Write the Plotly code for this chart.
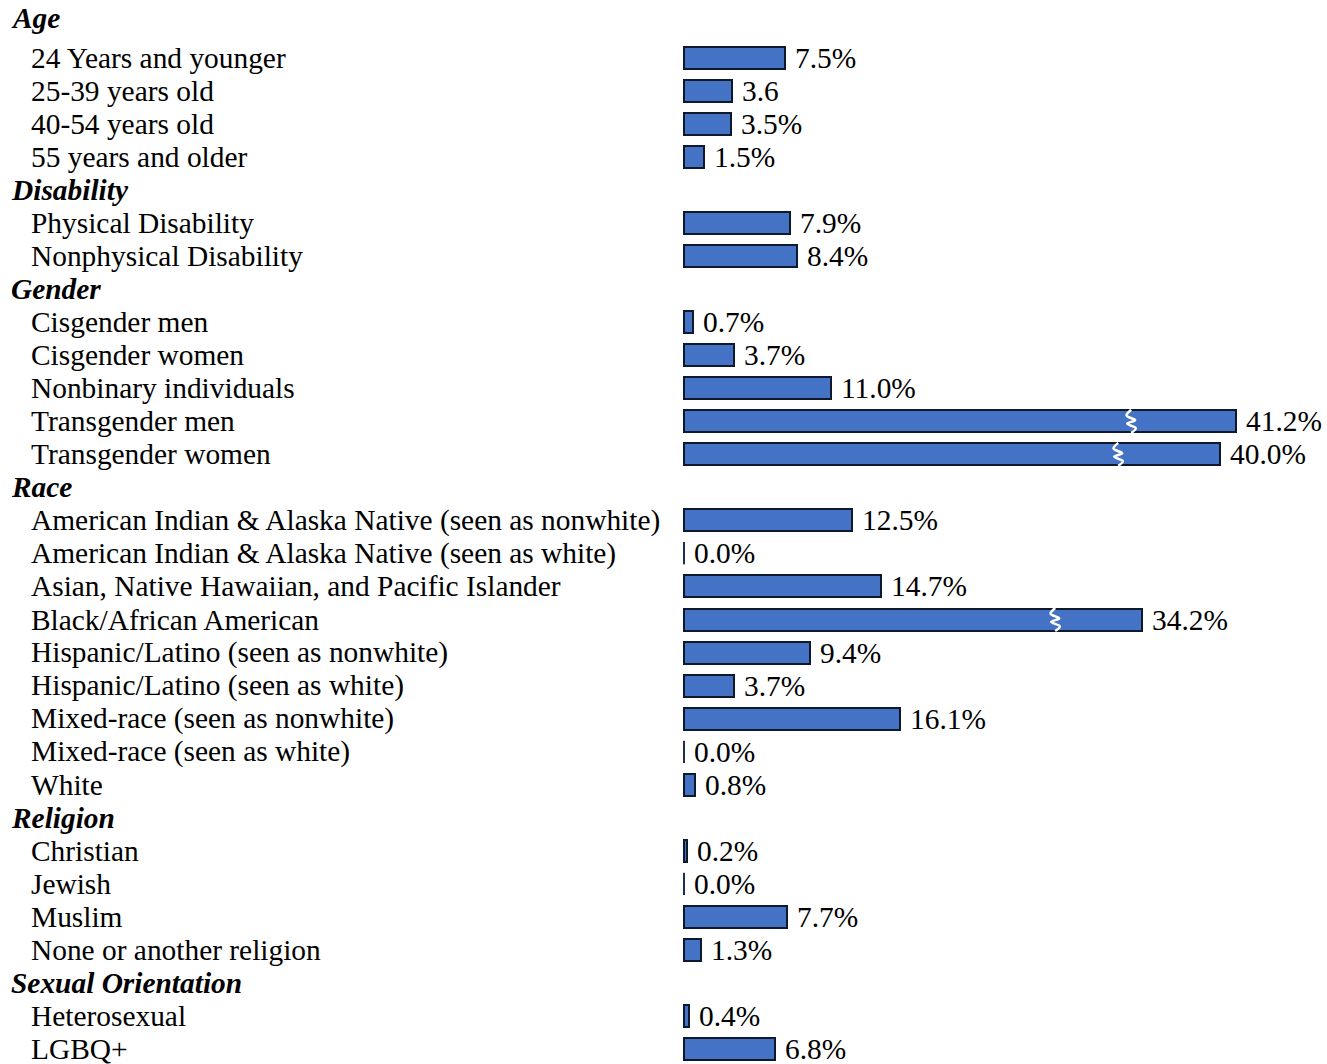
import plotly.graph_objects as go

# ---- data ----
groups = ["Age", "Disability", "Gender", "Race", "Religion", "Sexual Orientation"]
group_items = {
    "Age": ["24 Years and younger", "25-39 years old", "40-54 years old", "55 years and older"],
    "Disability": ["Physical Disability", "Nonphysical Disability"],
    "Gender": ["Cisgender men", "Cisgender women", "Nonbinary individuals",
               "Transgender men", "Transgender women"],
    "Race": ["American Indian & Alaska Native (seen as nonwhite)",
             "American Indian & Alaska Native (seen as white)",
             "Asian, Native Hawaiian, and Pacific Islander",
             "Black/African American",
             "Hispanic/Latino (seen as nonwhite)",
             "Hispanic/Latino (seen as white)",
             "Mixed-race (seen as nonwhite)",
             "Mixed-race (seen as white)",
             "White"],
    "Religion": ["Christian", "Jewish", "Muslim", "None or another religion"],
    "Sexual Orientation": ["Heterosexual", "LGBQ+"],
}
group_values = {
    "Age": [7.5, 3.6, 3.5, 1.5],
    "Disability": [7.9, 8.4],
    "Gender": [0.7, 3.7, 11.0, 41.2, 40.0],
    "Race": [12.5, 0.0, 14.7, 34.2, 9.4, 3.7, 16.1, 0.0, 0.8],
    "Religion": [0.2, 0.0, 7.7, 1.3],
    "Sexual Orientation": [0.4, 6.8],
}
group_labels = {
    "Age": ["7.5%", "3.6", "3.5%", "1.5%"],
    "Disability": ["7.9%", "8.4%"],
    "Gender": ["0.7%", "3.7%", "11.0%", "41.2%", "40.0%"],
    "Race": ["12.5%", "0.0%", "14.7%", "34.2%", "9.4%", "3.7%", "16.1%", "0.0%", "0.8%"],
    "Religion": ["0.2%", "0.0%", "7.7%", "1.3%"],
    "Sexual Orientation": ["0.4%", "6.8%"],
}
break_threshold = 30.0

# ---- build rows ----
header_rows, item_rows, item_names, item_vals, item_labels = [], [], [], [], []
r = 0
for g in groups:
    header_rows.append((r, g))
    r += 1
    for name, v, lab in zip(group_items[g], group_values[g], group_labels[g]):
        item_rows.append(r)
        item_names.append(name)
        item_vals.append(v)
        item_labels.append(lab)
        r += 1

W, H = 1327, 1064
px_per_unit = 13.4
x0_px = 684
row_px = 33.03
first_px = 24.97
xr = [-x0_px / px_per_unit, (W - x0_px) / px_per_unit]
yr = [(H - first_px) / row_px, -first_px / row_px]

BAR_COLOR = "#4472C4"
EDGE = "#0e1a2c"
FONT = "Liberation Serif, Times New Roman, serif"
FS = 29.4
bar_w = 22 / row_px

fig = go.Figure()
fig.add_trace(go.Bar(
    x=item_vals, y=item_rows, orientation="h", width=bar_w,
    marker=dict(color=BAR_COLOR, line=dict(color=EDGE, width=2)),
    hoverinfo="skip", showlegend=False,
))

# zero-value bars show as a thin outline at the baseline
zx, zy = [], []
for yv, v in zip(item_rows, item_vals):
    if v == 0:
        zx += [0, 0, None]
        zy += [yv - bar_w / 2, yv + bar_w / 2, None]
if zx:
    fig.add_trace(go.Scatter(x=zx, y=zy, mode="lines",
                             line=dict(color="#1f3864", width=1.5),
                             hoverinfo="skip", showlegend=False))

# break marks on long bars
bx, by = [], []
zig_dx = [0.0, -0.35, 0.3, -0.3, 0.35, 0.0]
zig_dy = [-0.5, -0.25, -0.05, 0.1, 0.3, 0.5]
for yv, v in zip(item_rows, item_vals):
    if v > break_threshold:
        xb = v * 0.81
        for dx, dy in zip(zig_dx, zig_dy):
            bx.append(xb + dx)
            by.append(yv + dy * (bar_w + 0.03))
        bx.append(None)
        by.append(None)
fig.add_trace(go.Scatter(x=bx, y=by, mode="lines",
                         line=dict(color="white", width=2.5, shape="spline"),
                         hoverinfo="skip", showlegend=False))

ann = []
for k, (yv, g) in enumerate(header_rows):
    ann.append(dict(x=9 / W, xref="paper", y=yv, yref="y", text=f"<b><i>{g}</i></b>",
                    xanchor="left", yanchor="middle", showarrow=False,
                    yshift=7 if k == 0 else 0,
                    font=dict(family=FONT, size=FS, color="black")))
for yv, name in zip(item_rows, item_names):
    ann.append(dict(x=29 / W, xref="paper", y=yv, yref="y", text=name,
                    xanchor="left", yanchor="middle", showarrow=False,
                    font=dict(family=FONT, size=FS, color="black")))
for yv, v, lab in zip(item_rows, item_vals, item_labels):
    ann.append(dict(x=v, xref="x", y=yv, yref="y", text=lab, xshift=8,
                    xanchor="left", yanchor="middle", showarrow=False,
                    font=dict(family=FONT, size=FS, color="black")))

fig.update_layout(
    width=W, height=H,
    margin=dict(l=0, r=0, t=0, b=0),
    paper_bgcolor="white", plot_bgcolor="white",
    xaxis=dict(range=xr, visible=False, fixedrange=True),
    yaxis=dict(range=yr, visible=False, fixedrange=True),
    annotations=ann,
    bargap=0,
)
fig.write_html("out.html", config={"displayModeBar": False},
               post_script="document.body.style.margin='0';document.body.style.overflow='hidden';")
